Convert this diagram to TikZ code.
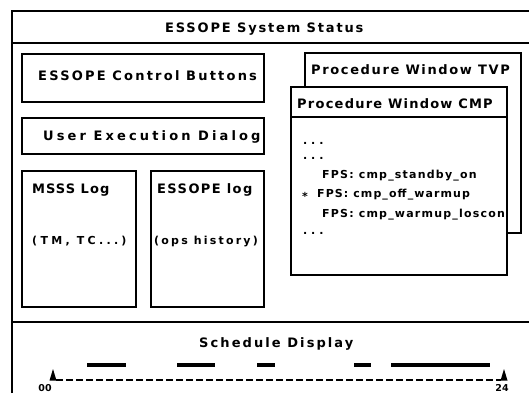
\documentclass[tikz,border=0pt]{standalone}
\usepackage{fontspec}
\setmainfont{DejaVu Sans}
\usetikzlibrary{fit}
\tikzset{
  frameline/.style={line width=1.8pt},
  box/.style={draw, line width=1.5pt, inner sep=0pt, fill=white},
  lbl/.style={anchor=base west, inner sep=0pt, font=\bfseries\fontsize{13}{16}\selectfont\addfontfeature{LetterSpace=#1}},
  sml/.style={anchor=base west, inner sep=0pt, font=\bfseries\fontsize{11}{13}\selectfont\addfontfeature{LetterSpace=#1}},
  bar/.style={line width=3.5pt},
  axis/.style={line width=1.4pt, dash pattern=on 7pt off 3pt},
  tick/.style={anchor=base, inner sep=0pt, font=\bfseries\fontsize{9.5}{11}\selectfont},
}
\begin{document}
\begin{tikzpicture}[x=1pt, y=-1pt]
\useasboundingbox (0,0) rectangle (529,393);
% outer frame
\coordinate (fbl) at (12,393);
\coordinate (ftl) at (12,11);
\coordinate (ftr) at (529,11);
\coordinate (hl) at (12,43);
\coordinate (hr) at (529,43);
\coordinate (dl) at (12,322);
\coordinate (dr) at (529,322);
\draw[frameline] (fbl) -- (ftl) -- (ftr);
\draw[frameline] (hl) -- (hr);
\draw[frameline] (dl) -- (dr);
\node[lbl=14] (title) at (165,33) {ESSOPE System Status};

% left boxes
\node[box, fit={(22,54)(264,102)}] (ctrl) {};
\node[lbl=17] (ctrlt) at (38,81) {ESSOPE Control Buttons};
\node[box, fit={(22,118)(264,154)}] (ued) {};
\node[lbl=24] (uedt) at (43,140) {User Execution Dialog};
\node[box, fit={(22,171)(136,307)}] (msss) {};
\node[lbl=8] (msst) at (32,193) {MSSS Log};
\node[sml=30] (msss2) at (32,244) {(TM, TC...)};
\node[box, fit={(151,171)(264,307)}] (elog) {};
\node[lbl=11] (elogt) at (157,193) {ESSOPE log};
\node[sml=20] (elog2) at (154,244) {(ops history)};

% procedure windows
\node[box, fit={(305,53)(521,233)}] (tvp) {};
\node[lbl=12.5] (tvpt) at (311,75) {Procedure Window TVP};
\node[box, fit={(291,87)(507,275)}] (cmp) {};
\coordinate (cmphl) at (291,117);
\coordinate (cmphr) at (507,117);
\draw[line width=1.5pt] (cmphl) -- (cmphr);
\node[lbl=9.5] (cmpt) at (297,108) {Procedure Window CMP};
\begin{scope}
\clip (291,117) rectangle (506,275);
\node[sml=35] (d1) at (303,144) {...};
\node[sml=35] (d2) at (303,159) {...};
\node[sml=11] (l1) at (322,178) {FPS: cmp\_standby\_on};
\node[sml=0] (star) at (302,200) {*};
\node[sml=10] (l2) at (317,197) {FPS: cmp\_off\_warmup};
\node[sml=11] (l3) at (322,217) {FPS: cmp\_warmup\_loscon};
\node[sml=35] (d3) at (303,234) {...};
\end{scope}

% schedule
\node[lbl=16] (sched) at (199,347) {Schedule Display};
\foreach \a/\b [count=\i] in {87/126, 177/215, 257/275, 354/371, 391/490}{
  \coordinate (bs\i) at (\a,365);
  \coordinate (be\i) at (\b,365);
  \draw[bar] (bs\i) -- (be\i);
}
\coordinate (ax0) at (56,380);
\coordinate (ax1) at (501,380);
\draw[axis] (ax0) -- (ax1);
\fill (53,369) -- (49.5,380.5) -- (56.5,380.5) -- cycle;
\fill (504,369) -- (500.5,380.5) -- (507.5,380.5) -- cycle;
\node[tick] (t0) at (45,391) {00};
\node[tick] (t24) at (502,391) {24};
\end{tikzpicture}
\end{document}
